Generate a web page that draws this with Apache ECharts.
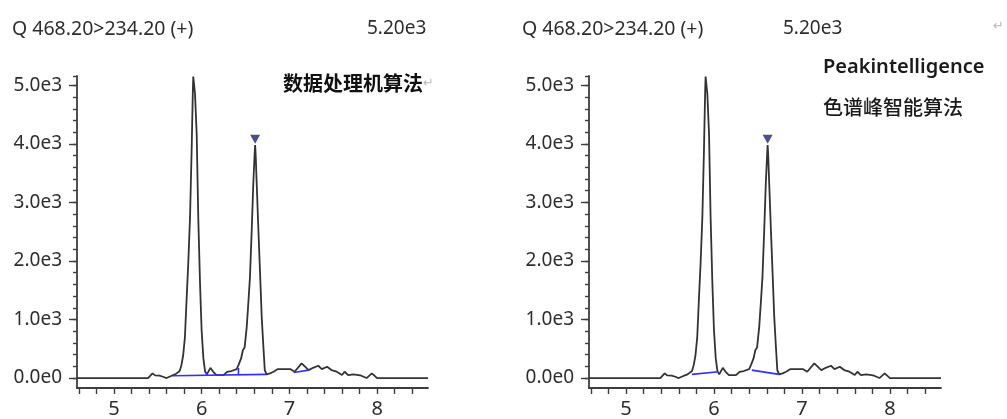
<!DOCTYPE html>
<html><head><meta charset="utf-8">
<script src="https://cdn.jsdelivr.net/npm/echarts@6/dist/echarts.min.js"></script>
<style>html,body{margin:0;padding:0;background:#fff}#c{width:1007px;height:419px}</style>
</head><body><div id="c"></div>
<script>
// retention time (min) and intensity of the chromatogram trace
const retentionTime = [4.58, 5.39, 5.44, 5.47, 5.52, 5.56, 5.60, 5.62, 5.66, 5.70, 5.75, 5.77, 5.79, 5.81, 5.83, 5.848, 5.868, 5.887, 5.90, 5.905, 5.925, 5.944, 5.962, 5.982, 6.00, 6.02, 6.04, 6.06, 6.10, 6.13, 6.17, 6.25, 6.29, 6.34, 6.40, 6.42, 6.45, 6.47, 6.49, 6.514, 6.532, 6.551, 6.571, 6.589, 6.604, 6.610, 6.616, 6.628, 6.646, 6.665, 6.685, 6.703, 6.72, 6.74, 6.78, 6.82, 6.87, 7.01, 7.06, 7.14, 7.22, 7.27, 7.33, 7.37, 7.43, 7.48, 7.54, 7.60, 7.63, 7.67, 7.73, 7.79, 7.82, 7.88, 7.94, 8.00, 8.58];
const intensity = [0, 0, 80, 45, 40, 22, 0, 0, 40, 63, 120, 220, 390, 700, 1380, 1957, 2740, 3930, 4900, 5150, 4850, 4170, 2740, 1620, 820, 340, 110, 63, 175, 110, 50, 50, 107, 120, 153, 220, 335, 475, 520, 870, 1270, 1720, 2520, 3320, 3820, 3980, 3820, 3320, 2575, 1840, 1045, 560, 136, 63, 80, 108, 153, 153, 108, 250, 136, 175, 210, 153, 193, 136, 108, 51, 108, 51, 63, 51, 40, 0, 80, 0, 0];

// peak apex marker
const markerTime = [6.61];
const markerValue = [4080];

// integration baselines (pairs of [time, intensity])
const leftBaselines = [
  [[5.67, 40], [6.74, 63]],
  [[6.06, 45], [6.06, 105]],
  [[6.42, 50], [6.42, 170]],
  [[7.05, 96], [7.22, 136]]
];
const rightBaselines = [
  [[5.75, 63], [6.05, 108]],
  [[6.43, 136], [6.74, 63]]
];

// axes
const xMin = 4.58, xMax = 8.58;
const yMin = -170, yMax = 5160;
const xTickValues = [4.6, 4.8, 5, 5.2, 5.4, 5.6, 5.8, 6, 6.2, 6.4, 6.6, 6.8, 7, 7.2, 7.4, 7.6, 7.8, 8, 8.2, 8.4];
const xLabelValues = [5, 6, 7, 8];
const xLabels = ['5', '6', '7', '8'];
const yMinorTickValues = [0, 200, 400, 600, 800, 1000, 1200, 1400, 1600, 1800, 2000, 2200, 2400, 2600, 2800, 3000, 3200, 3400, 3600, 3800, 4000, 4200, 4400, 4600, 4800, 5000, 5160];
const yLabelValues = [0, 1000, 2000, 3000, 4000, 5000];
const yLabels = ['0.0e0', '1.0e3', '2.0e3', '3.0e3', '4.0e3', '5.0e3'];

// texts
const channelTitle = 'Q 468.20>234.20 (+)';
const fullScale = '5.20e3';
const leftNote = '数据处理机算法';
const rightNote1 = 'Peakintelligence';
const rightNote2 = '色谱峰智能算法';

const chart = echarts.init(document.getElementById('c'), null, {renderer: 'canvas'});
const axisColor = '#3d3d3d';
const textColor = '#2e2e2e';
const latin = '"Noto Sans", "DejaVu Sans", sans-serif';
const cjk = '"Noto Sans CJK SC", "Noto Sans", sans-serif';

const grids = [
  {left: 77, top: 76, width: 351, bottom: 31},
  {left: 589, top: 76, width: 352, bottom: 31}
];

const xAxes = [], yAxes = [], series = [];
grids.forEach((g, gi) => {
  xAxes.push({
    type: 'value', gridIndex: gi, min: xMin, max: xMax,
    axisLine: {onZero: false, lineStyle: {color: axisColor, width: 1.8}},
    axisTick: {show: true, inside: false, length: 6, customValues: xTickValues, lineStyle: {color: axisColor, width: 1.4}},
    axisLabel: {customValues: xLabelValues, formatter: v => xLabels[xLabelValues.indexOf(Math.round(v))] ?? '',
      color: textColor, fontSize: 20, fontFamily: latin, margin: 11},
    splitLine: {show: false}
  });
  // major y axis (labels + long ticks)
  yAxes.push({
    type: 'value', gridIndex: gi, min: yMin, max: yMax,
    axisLine: {show: true, lineStyle: {color: axisColor, width: 1.8}},
    axisTick: {show: true, length: 8, customValues: yLabelValues, lineStyle: {color: axisColor, width: 1.4}},
    axisLabel: {customValues: yLabelValues, formatter: v => yLabels[yLabelValues.indexOf(Math.round(v))] ?? '',
      color: textColor, fontSize: 19, fontFamily: latin, margin: 15},
    splitLine: {show: false}
  });
  // minor y ticks
  yAxes.push({
    type: 'value', gridIndex: gi, min: yMin, max: yMax, position: 'left', offset: 0,
    axisLine: {show: false},
    axisTick: {show: true, length: 4, customValues: yMinorTickValues, lineStyle: {color: axisColor, width: 1.4}},
    axisLabel: {show: false},
    splitLine: {show: false}
  });
});

const traceData = retentionTime.map((t, i) => [t, intensity[i]]);
[0, 1].forEach(gi => {
  series.push({
    type: 'line', xAxisIndex: gi, yAxisIndex: gi * 2, data: traceData,
    showSymbol: false, symbol: 'none', animation: false,
    lineStyle: {color: '#333333', width: 1.8}, z: 3
  });
  const bl = gi === 0 ? leftBaselines : rightBaselines;
  bl.forEach(seg => series.push({
    type: 'line', xAxisIndex: gi, yAxisIndex: gi * 2, data: seg,
    showSymbol: false, symbol: 'none', animation: false,
    lineStyle: {color: '#2f2fff', width: 1.6}, z: 4
  }));
  series.push({
    type: 'scatter', xAxisIndex: gi, yAxisIndex: gi * 2,
    data: markerTime.map((t, i) => [t, markerValue[i]]),
    symbol: 'triangle', symbolRotate: 180, symbolSize: [10, 9], animation: false,
    itemStyle: {color: '#1c2470'}, z: 5
  });
});

const txt = (x, y, text, size, weight, family, color) => ({
  type: 'text', x: x, y: y, silent: true,
  style: {text: text, fill: color || textColor, font: `${weight} ${size}px ${family}`, textVerticalAlign: 'middle', textAlign: 'left'}
});

chart.setOption({
  animation: false,
  backgroundColor: '#ffffff',
  grid: grids,
  xAxis: xAxes,
  yAxis: yAxes,
  series: series,
  graphic: [
    txt(12, 29, channelTitle, 19.5, 'normal', latin),
    txt(367, 29, fullScale, 19, 'normal', latin),
    txt(283, 83, leftNote, 20, 'bold', cjk, '#111'),
    txt(423, 84, '↵', 13, 'normal', '"DejaVu Sans"', '#b8b8b8'),
    txt(522, 29, channelTitle, 19.5, 'normal', latin),
    txt(783, 29, fullScale, 19, 'normal', latin),
    txt(993, 27, '↵', 13, 'normal', '"DejaVu Sans"', '#b8b8b8'),
    txt(823, 67, rightNote1, 20, '600', latin, '#1a1a1a'),
    txt(823, 107, rightNote2, 20, '500', cjk, '#1a1a1a')
  ]
});
</script>
</body></html>
